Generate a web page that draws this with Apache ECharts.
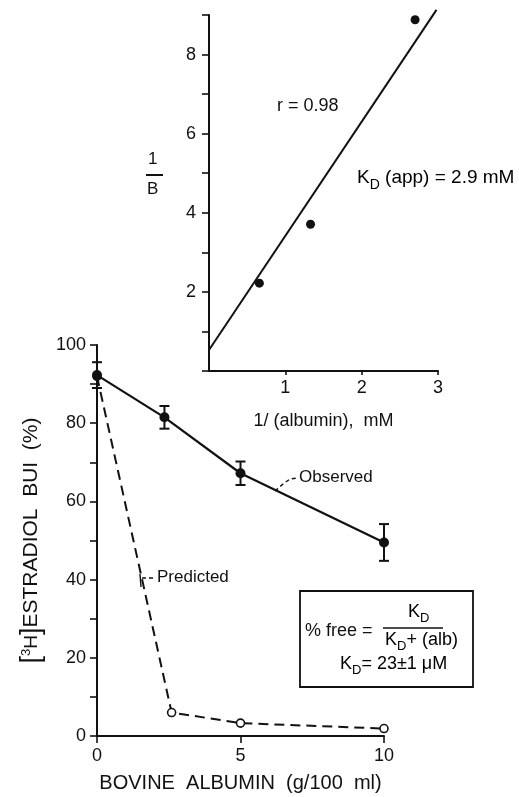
<!DOCTYPE html>
<html>
<head>
<meta charset="utf-8">
<script src="https://cdn.jsdelivr.net/npm/echarts@6/dist/echarts.min.js"></script>
<style>
html,body{margin:0;padding:0;background:#fff;}
#c{width:519px;height:797px;}
</style>
</head>
<body>
<div id="c"></div>
<script>
// ---- Inset (double reciprocal plot) ----
const insetX = [0.66, 1.33, 2.70];
const insetY = [2.22, 3.71, 8.88];
const fitX = [0, 2.98];
const fitY = [0.53, 9.13];
const insetXTicks = [1, 2, 3];
const insetYLabels = [2, 4, 6, 8];

// ---- Main plot ----
const albuminObs = [0, 2.35, 5, 10];
const observed = [92.3, 81.5, 67.2, 49.5];
const observedErr = [3.3, 2.9, 3.0, 4.7];
const albuminPred = [0, 2.6, 5, 10];
const predicted = [92, 6.0, 3.3, 1.9];
const mainXTicks = [0, 5, 10];
const mainYLabels = [0, 20, 40, 60, 80, 100];

const FONT = 'Liberation Sans';
const INK = '#111';

const chart = echarts.init(document.getElementById('c'), null, {renderer: 'canvas'});

const zip = (xs, ys) => xs.map((x, i) => [x, ys[i]]);

const option = {
  backgroundColor: '#fff',
  animation: false,
  textStyle: {fontFamily: FONT, color: INK},
  grid: [
    {left: 209, top: 15, width: 229, height: 356, containLabel: false, outerBoundsMode: 'none'},
    {left: 97, top: 345, width: 287, height: 391, containLabel: false, outerBoundsMode: 'none'}
  ],
  xAxis: [
    {
      type: 'value', gridIndex: 0, min: 0, max: 3, interval: 1,
      splitLine: {show: false},
      axisLine: {onZero: false, lineStyle: {color: INK, width: 2}},
      axisTick: {show: true, length: 4, lineStyle: {color: INK, width: 1.6}, customValues: insetXTicks},
      axisLabel: {customValues: insetXTicks, fontSize: 18, color: INK, fontFamily: FONT, margin: 8,
        formatter: v => insetXTicks.indexOf(v) >= 0 ? String(v) : ''},
      name: '1/ (albumin),  mM', nameLocation: 'middle', nameGap: 41,
      nameTextStyle: {fontSize: 18, color: INK, fontFamily: FONT}
    },
    {
      type: 'value', gridIndex: 1, min: 0, max: 10, interval: 5,
      splitLine: {show: false},
      axisLine: {onZero: false, lineStyle: {color: INK, width: 2}},
      axisTick: {show: true, length: 7, lineStyle: {color: INK, width: 1.6}},
      axisLabel: {fontSize: 18, color: INK, fontFamily: FONT, margin: 11,
        formatter: v => mainXTicks.indexOf(v) >= 0 ? String(v) : ''},
      name: 'BOVINE  ALBUMIN  (g/100  ml)', nameLocation: 'middle', nameGap: 37,
      nameTextStyle: {fontSize: 20, color: INK, fontFamily: FONT}
    }
  ],
  yAxis: [
    {
      type: 'value', gridIndex: 0, min: 0, max: 9, interval: 1,
      splitLine: {show: false},
      axisLine: {onZero: false, lineStyle: {color: INK, width: 2}},
      axisTick: {show: true, length: 7, lineStyle: {color: INK, width: 1.6}},
      axisLabel: {fontSize: 18, color: INK, fontFamily: FONT, margin: 13,
        formatter: v => insetYLabels.indexOf(v) >= 0 ? String(v) : ''}
    },
    {
      type: 'value', gridIndex: 1, min: 0, max: 100, interval: 10,
      splitLine: {show: false},
      axisLine: {onZero: false, lineStyle: {color: INK, width: 2}},
      axisTick: {show: true, length: 7, lineStyle: {color: INK, width: 1.6}},
      axisLabel: {fontSize: 18, color: INK, fontFamily: FONT, margin: 11,
        formatter: v => mainYLabels.indexOf(v) >= 0 ? String(v) : ''},
      name: '{b|[}{sup|3}{h|H}{b|]}{t|ESTRADIOL  BUI  (%)}',
      nameLocation: 'middle', nameRotate: 90, nameGap: 50,
      nameTextStyle: {
        color: INK, fontFamily: FONT, fontSize: 21,
        rich: {
          b: {fontSize: 27, fontFamily: FONT, color: INK, fontWeight: 'lighter'},
          sup: {fontSize: 13, fontFamily: FONT, color: INK, padding: [0, 0, 10, 0]},
          h: {fontSize: 19, fontFamily: FONT, color: INK},
          t: {fontSize: 21, fontFamily: FONT, color: INK}
        }
      }
    }
  ],
  series: [
    {
      name: 'fit', type: 'line', xAxisIndex: 0, yAxisIndex: 0,
      data: zip(fitX, fitY), showSymbol: false, symbol: 'none', clip: false,
      lineStyle: {color: INK, width: 2}, z: 2
    },
    {
      name: 'inset', type: 'scatter', xAxisIndex: 0, yAxisIndex: 0,
      data: zip(insetX, insetY), symbol: 'circle', symbolSize: 9,
      itemStyle: {color: INK, opacity: 1}, z: 3
    },
    {
      name: 'Predicted', type: 'line', xAxisIndex: 1, yAxisIndex: 1,
      data: zip(albuminPred, predicted), symbol: 'circle', symbolSize: 8, showAllSymbol: true,
      itemStyle: {color: '#fff', borderColor: INK, borderWidth: 1.6},
      lineStyle: {color: INK, width: 2, type: [10, 6]}, z: 2
    },
    {
      name: 'Observed', type: 'line', xAxisIndex: 1, yAxisIndex: 1,
      data: zip(albuminObs, observed), symbol: 'circle', symbolSize: 10, showAllSymbol: true,
      itemStyle: {color: INK}, lineStyle: {color: INK, width: 2.2}, z: 4
    },
    {
      name: 'err', type: 'custom', xAxisIndex: 1, yAxisIndex: 1,
      data: albuminObs.map((x, i) => [x, observed[i] - observedErr[i], observed[i] + observedErr[i]]),
      renderItem: function (params, api) {
        const x = api.value(0);
        const lo = api.coord([x, api.value(1)]);
        const hi = api.coord([x, api.value(2)]);
        const w = 5;
        const st = {stroke: INK, lineWidth: 2};
        return {
          type: 'group',
          children: [
            {type: 'line', shape: {x1: lo[0], y1: lo[1], x2: hi[0], y2: hi[1]}, style: st},
            {type: 'line', shape: {x1: lo[0] - w, y1: lo[1], x2: lo[0] + w, y2: lo[1]}, style: st},
            {type: 'line', shape: {x1: hi[0] - w, y1: hi[1], x2: hi[0] + w, y2: hi[1]}, style: st}
          ]
        };
      },
      z: 5
    }
  ],
  graphic: [
    // 1/B axis name of the inset
    {type: 'text', left: 148, top: 151, style: {text: '1', font: '17px "Liberation Sans"', fill: INK}},
    {type: 'line', shape: {x1: 146, y1: 175, x2: 163, y2: 175}, style: {stroke: INK, lineWidth: 2}},
    {type: 'text', left: 147, top: 181, style: {text: 'B', font: '17px "Liberation Sans"', fill: INK}},
    // inset annotations
    {type: 'text', left: 277, top: 97, style: {text: 'r = 0.98', font: '18px "Liberation Sans"', fill: INK}},
    {type: 'text', left: 357, top: 168, style: {
      text: '{n|K}{s|D}{n| (app) = 2.9 mM}',
      rich: {
        n: {fontSize: 19, fontFamily: FONT, lineHeight: 22, verticalAlign: 'top', color: INK},
        s: {fontSize: 14, fontFamily: FONT, lineHeight: 14, padding: [10, 0, 0, 0], verticalAlign: 'top', color: INK}
      }
    }},
    // Observed label with leader
    {type: 'polyline', shape: {points: [[275, 491], [283, 484], [290, 479], [297, 478]]},
      style: {stroke: INK, lineWidth: 1.4, lineDash: [4, 3], fill: null}},
    {type: 'text', left: 299, top: 469, style: {text: 'Observed', font: '17px "Liberation Sans"', fill: INK}},
    // Predicted label with leader
    {type: 'line', shape: {x1: 140, y1: 574, x2: 141, y2: 587}, style: {stroke: INK, lineWidth: 1.4}},
    {type: 'line', shape: {x1: 142, y1: 578, x2: 156, y2: 578}, style: {stroke: INK, lineWidth: 1.4, lineDash: [4, 3]}},
    {type: 'text', left: 157, top: 569, style: {text: 'Predicted', font: '17px "Liberation Sans"', fill: INK}},
    // Equation box
    {type: 'rect', shape: {x: 300, y: 591, width: 173, height: 96},
      style: {stroke: INK, lineWidth: 1.8, fill: '#fff'}, z: 10},
    {type: 'text', left: 305, top: 622, z: 11, style: {text: '% free =', font: '18px "Liberation Sans"', fill: INK}},
    {type: 'text', left: 408, top: 603, z: 11, style: {
      text: '{n|K}{s|D}',
      rich: {
        n: {fontSize: 18, fontFamily: FONT, lineHeight: 20, verticalAlign: 'top', color: INK},
        s: {fontSize: 13, fontFamily: FONT, lineHeight: 13, padding: [9, 0, 0, 0], verticalAlign: 'top', color: INK}
      }
    }},
    {type: 'line', z: 11, shape: {x1: 383, y1: 628, x2: 443, y2: 628}, style: {stroke: INK, lineWidth: 1.6}},
    {type: 'text', left: 385, top: 631, z: 11, style: {
      text: '{n|K}{s|D}{n|+ (alb)}',
      rich: {
        n: {fontSize: 18, fontFamily: FONT, lineHeight: 20, verticalAlign: 'top', color: INK},
        s: {fontSize: 13, fontFamily: FONT, lineHeight: 13, padding: [9, 0, 0, 0], verticalAlign: 'top', color: INK}
      }
    }},
    {type: 'text', left: 340, top: 655, z: 11, style: {
      text: '{n|K}{s|D}{n|= 23±1 μM}',
      rich: {
        n: {fontSize: 18, fontFamily: FONT, lineHeight: 20, verticalAlign: 'top', color: INK},
        s: {fontSize: 13, fontFamily: FONT, lineHeight: 13, padding: [9, 0, 0, 0], verticalAlign: 'top', color: INK}
      }
    }}
  ]
};
chart.setOption(option);
</script>
</body>
</html>
